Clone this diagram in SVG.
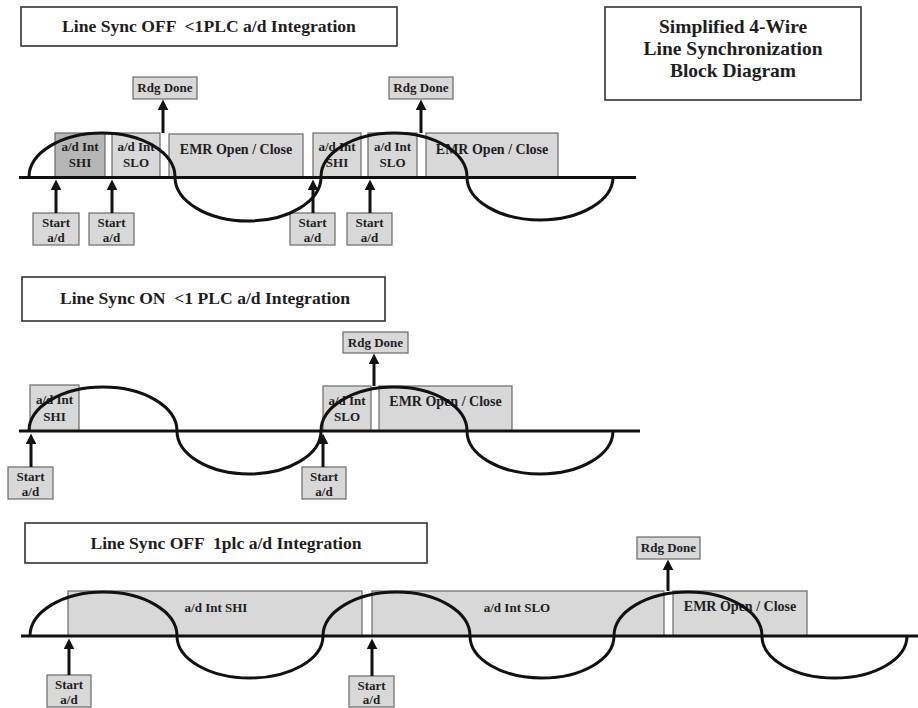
<svg xmlns="http://www.w3.org/2000/svg" width="918" height="708" viewBox="0 0 918 708">
<defs>
<style>
.title{fill:#fff;stroke:#333;stroke-width:1.6}
.box{fill:#d8d8d8;stroke:#6a6a6a;stroke-width:1.2}
.dark{fill:#b6b6b6}
.t{font-family:"Liberation Serif","Times New Roman",serif;font-weight:bold;fill:#1e1e1e;text-anchor:middle}
.h{font-size:17.6px}
.b{font-size:13px}
.e{font-size:14px}
.lg{font-size:19.5px}
.wave{fill:none;stroke:#111;stroke-width:3}
.base{stroke:#111;stroke-width:3}
.arr{stroke:#111;stroke-width:3;marker-end:url(#ah)}
</style>
<marker id="ah" viewBox="0 0 10 10" refX="4" refY="5" markerWidth="11" markerHeight="11" markerUnits="userSpaceOnUse" orient="auto">
<path d="M0,0 L10,5 L0,10 z" fill="#111"/>
</marker>
</defs>
<rect width="918" height="708" fill="#fff"/>

<!-- titles -->
<g id="title1"><rect class="title" x="21" y="7" width="376" height="39"/><text class="t h" x="209" y="32" xml:space="preserve">Line Sync OFF  &lt;1PLC a/d Integration</text></g>
<g id="legend"><rect class="title" x="605" y="7" width="256" height="93" stroke-width="2"/>
<text class="t lg" x="733" y="33">Simplified 4-Wire</text>
<text class="t lg" x="733" y="55">Line Synchronization</text>
<text class="t lg" x="733" y="77">Block Diagram</text></g>
<g id="title2"><rect class="title" x="22" y="277" width="363" height="44"/><text class="t h" x="205" y="304" xml:space="preserve">Line Sync ON  &lt;1 PLC a/d Integration</text></g>
<g id="title3"><rect class="title" x="25" y="523" width="402" height="40"/><text class="t h" x="226" y="549" xml:space="preserve">Line Sync OFF  1plc a/d Integration</text></g>

<!-- section 1 -->
<g id="s1-shi1"><rect class="box dark" x="55" y="133" width="50" height="44"/><text class="t b" x="80" y="151">a/d Int</text><text class="t b" x="80" y="167">SHI</text></g>
<g id="s1-slo1"><rect class="box" x="112" y="133" width="48" height="44"/><text class="t b" x="136" y="151">a/d Int</text><text class="t b" x="136" y="167">SLO</text></g>
<g id="s1-emr1"><rect class="box" x="169" y="134" width="134" height="43"/><text class="t e" x="236" y="154">EMR Open / Close</text></g>
<g id="s1-rdg1"><rect class="box" x="133" y="77" width="64" height="22"/><text class="t b" x="165" y="92">Rdg Done</text></g>
<g id="s1-start1"><rect class="box" x="33" y="213" width="46" height="32"/><text class="t b" x="56" y="227">Start</text><text class="t b" x="56" y="242">a/d</text></g>
<g id="s1-start2"><rect class="box" x="89" y="213" width="45" height="32"/><text class="t b" x="111.5" y="227">Start</text><text class="t b" x="111.5" y="242">a/d</text></g>
<g id="s1-shi2"><rect class="box" x="313" y="133" width="48" height="44"/><text class="t b" x="337" y="151">a/d Int</text><text class="t b" x="337" y="167">SHI</text></g>
<g id="s1-slo2"><rect class="box" x="368" y="133" width="49" height="44"/><text class="t b" x="392.5" y="151">a/d Int</text><text class="t b" x="392.5" y="167">SLO</text></g>
<g id="s1-emr2"><rect class="box" x="426" y="133" width="132" height="44"/><text class="t e" x="492" y="154">EMR Open / Close</text></g>
<g id="s1-rdg2"><rect class="box" x="389" y="77" width="64" height="22"/><text class="t b" x="421" y="92">Rdg Done</text></g>
<g id="s1-start3"><rect class="box" x="290" y="213" width="45" height="32"/><text class="t b" x="312.5" y="227">Start</text><text class="t b" x="312.5" y="242">a/d</text></g>
<g id="s1-start4"><rect class="box" x="347" y="213" width="45" height="32"/><text class="t b" x="369.5" y="227">Start</text><text class="t b" x="369.5" y="242">a/d</text></g>

<!-- section 2 -->
<g id="s2-shi"><rect class="box" x="30" y="385" width="49" height="46"/><text class="t b" x="54.5" y="404">a/d Int</text><text class="t b" x="54.5" y="421">SHI</text></g>
<g id="s2-start1"><rect class="box" x="8" y="467" width="45" height="32"/><text class="t b" x="30.5" y="481">Start</text><text class="t b" x="30.5" y="496">a/d</text></g>
<g id="s2-start2"><rect class="box" x="302" y="467" width="44" height="32"/><text class="t b" x="324" y="481">Start</text><text class="t b" x="324" y="496">a/d</text></g>
<g id="s2-slo"><rect class="box" x="323" y="386" width="48" height="45"/><text class="t b" x="347" y="405">a/d Int</text><text class="t b" x="347" y="421">SLO</text></g>
<g id="s2-emr"><rect class="box" x="379" y="386" width="133" height="45"/><text class="t e" x="445.5" y="406">EMR Open / Close</text></g>
<g id="s2-rdg"><rect class="box" x="343" y="332" width="65" height="21"/><text class="t b" x="375.5" y="347">Rdg Done</text></g>

<!-- section 3 -->
<g id="s3-shi"><rect class="box" x="68" y="591" width="294" height="45"/><text class="t" style="font-size:13px" x="216" y="612">a/d Int SHI</text></g>
<g id="s3-slo"><rect class="box" x="372" y="591" width="292" height="45"/><text class="t" style="font-size:13px" x="517" y="612">a/d Int SLO</text></g>
<g id="s3-emr"><rect class="box" x="673" y="591" width="134" height="45"/><text class="t e" x="740" y="611">EMR Open / Close</text></g>
<g id="s3-rdg"><rect class="box" x="637" y="537" width="63" height="22"/><text class="t b" x="668.5" y="552">Rdg Done</text></g>
<g id="s3-start1"><rect class="box" x="47" y="675" width="44" height="32"/><text class="t b" x="69" y="689">Start</text><text class="t b" x="69" y="704">a/d</text></g>
<g id="s3-start2"><rect class="box" x="349" y="676" width="45" height="31"/><text class="t b" x="371.5" y="690">Start</text><text class="t b" x="371.5" y="704">a/d</text></g>

<!-- waveforms -->
<g id="waveforms">
<line class="base" x1="19" y1="177.5" x2="636" y2="177.5"/>
<path class="wave" d="M29,177 A73,44 0 0 1 175,177 A73,44 0 0 0 321,177 A73,44 0 0 1 467,177 A73,43 0 0 0 613,177"/>
<line class="base" x1="19" y1="431" x2="640" y2="431"/>
<path class="wave" d="M29,431 A74,44 0 0 1 177,431 A72,43 0 0 0 321,431 A73,44 0 0 1 467,431 A73,43 0 0 0 613,431"/>
<line class="base" x1="21" y1="636" x2="918" y2="636"/>
<path class="wave" d="M30,636 A73.5,44 0 0 1 177,636 A73,42 0 0 0 323,636 A73.5,44 0 0 1 470,636 A72,42 0 0 0 614,636 A74,44 0 0 1 762,636 A72.5,42 0 0 0 907,636"/>
</g>

<!-- connectors -->
<g id="connectors">
<line class="arr" x1="56" y1="213" x2="56" y2="186"/>
<line class="arr" x1="112" y1="213" x2="112" y2="186"/>
<line class="arr" x1="313" y1="213" x2="313" y2="186"/>
<line class="arr" x1="370" y1="213" x2="370" y2="186"/>
<line class="arr" x1="163" y1="133" x2="163" y2="106"/>
<line class="arr" x1="421" y1="133" x2="421" y2="106"/>
<line class="arr" x1="31" y1="467" x2="31" y2="440"/>
<line class="arr" x1="323" y1="467" x2="323" y2="440"/>
<line class="arr" x1="374" y1="386" x2="374" y2="360"/>
<line class="arr" x1="69" y1="675" x2="69" y2="645"/>
<line class="arr" x1="372" y1="676" x2="372" y2="645"/>
<line class="arr" x1="668" y1="591" x2="668" y2="566"/>
</g>
</svg>
